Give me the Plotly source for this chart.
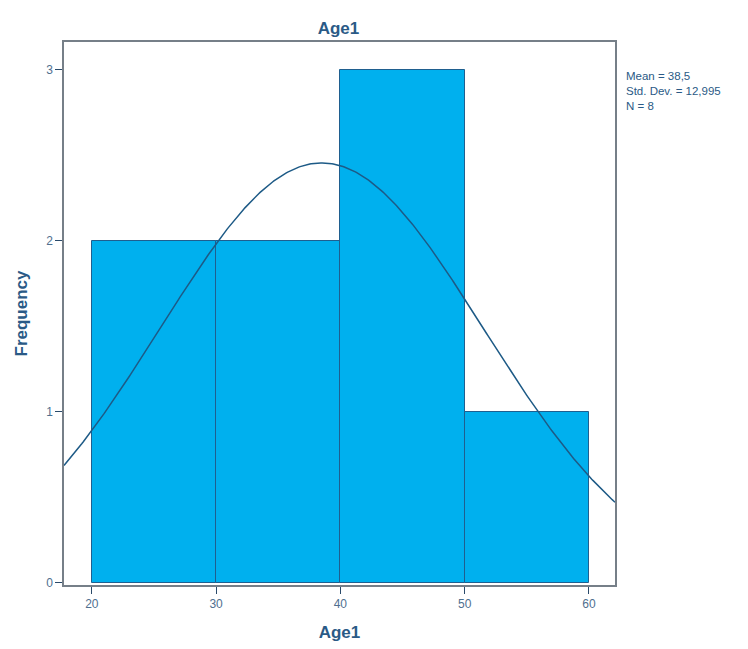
import numpy as np
import plotly.graph_objects as go

# Data
bin_left = [20, 30, 40, 50]
bin_right = [30, 40, 50, 60]
counts = [2, 2, 3, 1]
mean_val = 38.5
std_val = 12.995
n_val = 8
x_ticks = [20, 30, 40, 50, 60]
y_ticks = [0, 1, 2, 3]
stats_lines = ["Mean = 38,5", "Std. Dev. = 12,995", "N = 8"]

centers = [(a + b) / 2 for a, b in zip(bin_left, bin_right)]
widths = [b - a for a, b in zip(bin_left, bin_right)]
binw = widths[0]

xr = [17.76, 62.1]
xs = np.linspace(xr[0], xr[1], 400)
ys = n_val * binw / (std_val * np.sqrt(2 * np.pi)) * np.exp(-0.5 * ((xs - mean_val) / std_val) ** 2)

text_col = "#2a5a86"
fig = go.Figure()
fig.add_trace(go.Bar(
    x=centers, y=counts, width=widths,
    marker=dict(color="#00b0ee", line=dict(color="#1f5f8f", width=1)),
    hoverinfo="skip",
))
fig.add_trace(go.Scatter(
    x=xs, y=ys, mode="lines",
    line=dict(color="#1d5a86", width=1.5),
    hoverinfo="skip",
))

L, T, PW, PH = 54, 34, 553, 543

fig.update_layout(
    width=748, height=649,
    margin=dict(l=L, r=748 - L - PW, t=T, b=649 - T - PH),
    paper_bgcolor="white", plot_bgcolor="white",
    showlegend=False,
    bargap=0,
    font=dict(family="Liberation Sans, Arial, sans-serif", color=text_col),
    title=dict(text="<b>Age1</b>", x=(L + PW / 2) / 748, xanchor="center",
               y=1 - 20 / 649, yanchor="middle",
               font=dict(size=17, color=text_col)),
    annotations=[dict(
        text="<br>".join(stats_lines),
        xref="paper", yref="paper", x=1.016, y=0.953,
        xanchor="left", yanchor="top", showarrow=False, align="left",
        font=dict(size=11.5, color=text_col),
    )],
)
fig.update_xaxes(
    range=xr, tickvals=x_ticks, showgrid=False, zeroline=False,
    showline=True, linecolor="#767f88", linewidth=1.5, mirror=True,
    ticks="outside", ticklen=7, tickcolor="#2a4a6a", tickwidth=1,
    tickfont=dict(size=12, color="#4f6f8f"),
    title=dict(text="<b>Age1</b>", font=dict(size=17, color=text_col), standoff=16),
)
fig.update_yaxes(
    range=[-0.012, 3.163], tickvals=y_ticks, showgrid=False, zeroline=False,
    showline=True, linecolor="#767f88", linewidth=1.5, mirror=True,
    ticks="outside", ticklen=7, tickcolor="#2a4a6a", tickwidth=1,
    tickfont=dict(size=12, color="#4f6f8f"),
    title=dict(text="<b>Frequency</b>", font=dict(size=17, color=text_col), standoff=14),
)

fig.write_html("out.html")
